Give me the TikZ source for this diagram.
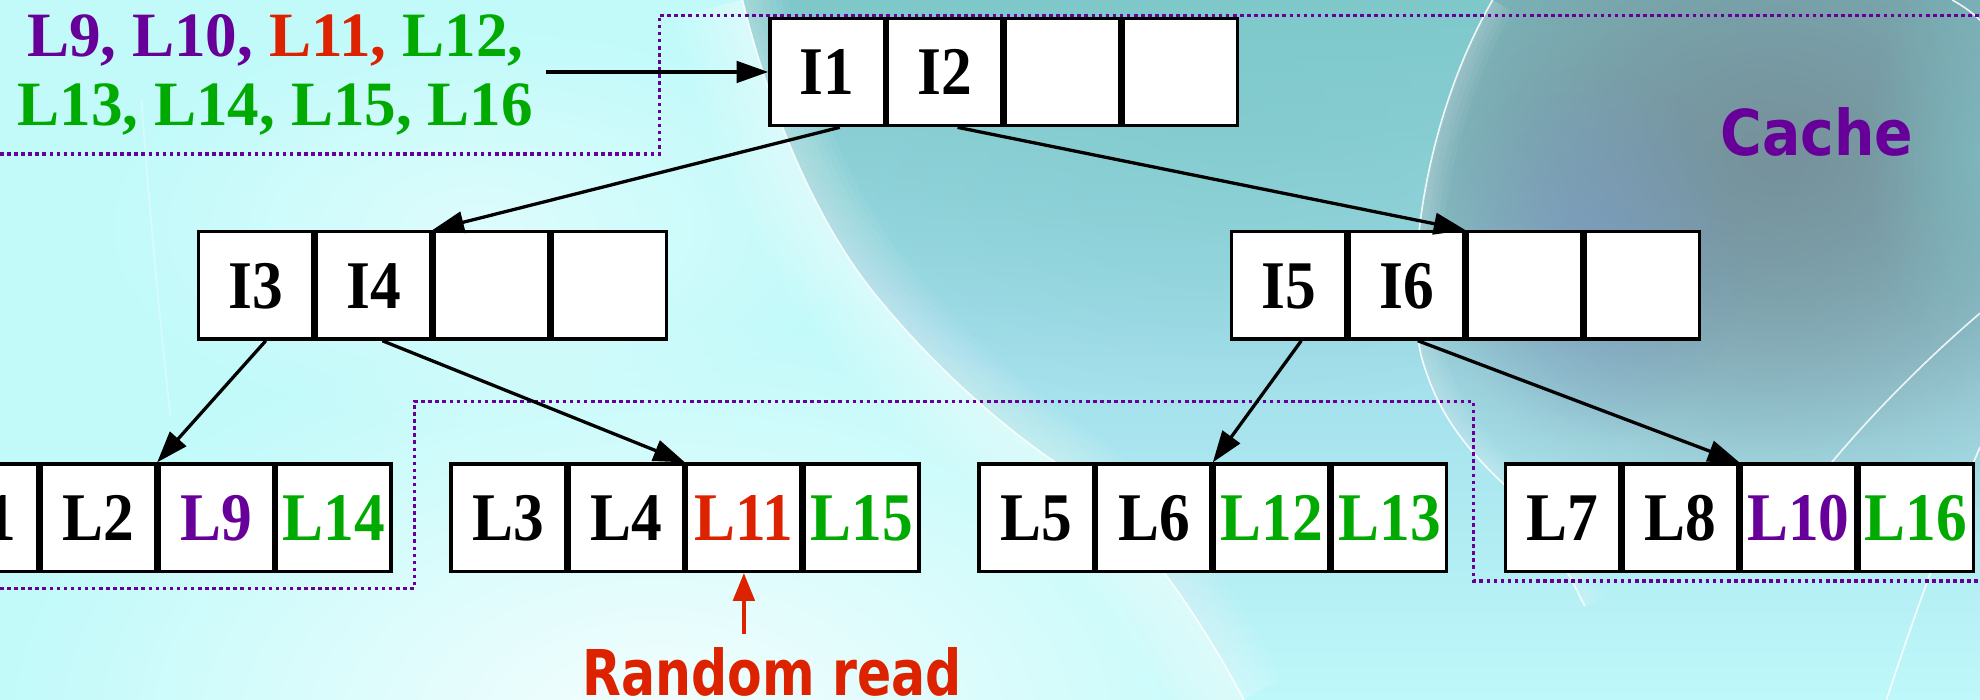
\documentclass[tikz,border=0pt]{standalone}
\usepackage{fontspec}
\usepackage{graphicx}
\setmainfont{Liberation Serif}
\newfontfamily\labelsans{DejaVu Sans}
\usetikzlibrary{arrows.meta,positioning,fadings}

\definecolor{bgcyan}{RGB}{194,250,250}
\definecolor{tealtop}{RGB}{126,200,202}
\definecolor{tealmid}{RGB}{162,222,234}
\definecolor{tealbot}{RGB}{190,248,250}
\definecolor{slateblob}{RGB}{118,146,156}
\definecolor{lilacblob}{RGB}{122,150,200}
\definecolor{cpurple}{RGB}{102,0,153}
\definecolor{cgreen}{RGB}{0,170,0}
\definecolor{cred}{RGB}{221,34,0}

\tikzfading[name=softedge, inner color=transparent!0, outer color=transparent!100]

% slightly condensed text inside the cells
\newcommand{\celltxt}[2][black]{\textcolor{#1}{\scalebox{0.9}[1]{#2}}}

% sweeping arcs of the backdrop
\newcommand{\leftsweep}{(588,0) .. controls (605,70) and (640,170) .. (697,238)
  .. controls (740,290) and (790,335) .. (837,367) .. controls (890,405) and (940,470) .. (985,554)}
\newcommand{\rightsweep}{(1182,0) .. controls (1130,90) and (1112,210) .. (1125,280)
  .. controls (1138,330) and (1165,360) .. (1200,392) .. controls (1225,420) and (1240,450) .. (1255,480)}

\tikzset{
  cell/.style={draw, line width=2.7pt, fill=white, minimum width=90.6pt,
    minimum height=85pt, inner sep=0pt, text height=36pt, text depth=0pt,
    font=\fontsize{54}{54}\selectfont\bfseries},
  link/.style={draw, line width=2.6pt, -{Triangle[length=25pt,width=17pt]}},
  redlink/.style={draw=cred, line width=3pt, -{Triangle[length=22pt,width=17pt]}, cred},
  cacheline/.style={draw=cpurple, line width=2.6pt, dash pattern=on 2.8pt off 2.8pt},
  bigsans/.style={font=\labelsans\fontsize{50}{50}\selectfont\bfseries, inner sep=0pt},
  whitearc/.style={draw=white, line width=1.3pt, opacity=0.85},
  glow/.style={draw=white, line width=#1, opacity=0.05},
}

\begin{document}
\begin{tikzpicture}[x=1pt, y=-1pt]
\useasboundingbox (0,0) rectangle (1568,554);

% backdrop
\begin{scope}
  \clip (0,0) rectangle (1568,554);
  \fill[bgcyan] (0,0) rectangle (1568,554);
  \fill[white, opacity=0.85, path fading=softedge] (520,580) ellipse [x radius=520, y radius=330];
  \fill[white, opacity=0.45, path fading=softedge] (380,180) ellipse [x radius=300, y radius=160];
  % soft bright rim along the left sweep
  \foreach \w in {110,100,...,10} {\draw[glow=\w pt] \leftsweep;}
  % teal body right of the left sweep
  \begin{scope}
    \clip \leftsweep -- (1568,554) -- (1568,0) -- cycle;
    \shade[top color=tealtop, bottom color=tealbot, middle color=tealmid]
      (560,0) rectangle (1568,554);
    \fill[tealtop, opacity=0.6, path fading=softedge] (980,80) ellipse [x radius=420, y radius=240];
    \foreach \w in {70,60,...,10} {\draw[glow=\w pt] \leftsweep;}
    % grey dome right of the right sweep
    \begin{scope}
      \clip \rightsweep -- (1568,554) -- (1568,0) -- cycle;
      \fill[slateblob, path fading=softedge] (1410,120) ellipse [x radius=420, y radius=330];
      \fill[slateblob, opacity=0.6, path fading=softedge] (1380,140) ellipse [x radius=280, y radius=220];
      \fill[lilacblob, opacity=0.55, path fading=softedge] (1262,200) ellipse [x radius=120, y radius=150];
      \fill[tealtop, opacity=0.5, path fading=softedge] (1568,120) ellipse [x radius=90, y radius=180];
      \foreach \w in {36,28,...,4} {\draw[glow=\w pt] \rightsweep;}
    \end{scope}
  \end{scope}
  \draw[whitearc] \leftsweep;
  \draw[whitearc] \rightsweep;
  \draw[whitearc] (1568,248) .. controls (1525,285) and (1485,325) .. (1449,368);
  \draw[whitearc] (1568,354) .. controls (1540,420) and (1515,490) .. (1494,554);
  \draw[whitearc] (1546,0) .. controls (1555,5) and (1562,10) .. (1568,16);
  \draw[whitearc, opacity=0.35] (112,80) .. controls (118,160) and (125,240) .. (135,330);
\end{scope}

% cached region borders
\draw[cacheline] (0,122) -- (522,122) -- (522,12) -- (1568,12);
\draw[cacheline] (0,466) -- (328,466) -- (328,318) -- (1167,318) -- (1167,460) -- (1568,460);

% root node
\node[cell] (r1) at (655,57) {\celltxt{I1}};
\node[cell, right=0pt of r1] (r2) {\celltxt{I2}};
\node[cell, right=0pt of r2] (r3) {};
\node[cell, right=0pt of r3] (r4) {};

% inner nodes
\node[cell] (a1) at (202.5,226) {\celltxt{I3}};
\node[cell, right=0pt of a1] (a2) {\celltxt{I4}};
\node[cell, right=0pt of a2] (a3) {};
\node[cell, right=0pt of a3] (a4) {};

\node[cell] (b1) at (1020.5,226) {\celltxt{I5}};
\node[cell, right=0pt of b1] (b2) {\celltxt{I6}};
\node[cell, right=0pt of b2] (b3) {};
\node[cell, right=0pt of b3] (b4) {};

% leaves
\node[cell] (p1) at (-15.5,410) {\celltxt{L1}};
\node[cell, right=0pt of p1] (p2) {\celltxt{L2}};
\node[cell, right=0pt of p2] (p3) {\celltxt[cpurple]{L9}};
\node[cell, right=0pt of p3] (p4) {\celltxt[cgreen]{L14}};

\node[cell] (q1) at (402.5,410) {\celltxt{L3}};
\node[cell, right=0pt of q1] (q2) {\celltxt{L4}};
\node[cell, right=0pt of q2] (q3) {\celltxt[cred]{L11}};
\node[cell, right=0pt of q3] (q4) {\celltxt[cgreen]{L15}};

\node[cell] (s1) at (820.5,410) {\celltxt{L5}};
\node[cell, right=0pt of s1] (s2) {\celltxt{L6}};
\node[cell, right=0pt of s2] (s3) {\celltxt[cgreen]{L12}};
\node[cell, right=0pt of s3] (s4) {\celltxt[cgreen]{L13}};

\node[cell] (t1) at (1237.5,410) {\celltxt{L7}};
\node[cell, right=0pt of t1] (t2) {\celltxt{L8}};
\node[cell, right=0pt of t2] (t3) {\celltxt[cpurple]{L10}};
\node[cell, right=0pt of t3] (t4) {\celltxt[cgreen]{L16}};

% tree pointers
\draw[link] ([xshift=10pt]r1.south) -- (a2.north east);
\draw[link] ([xshift=10pt]r2.south) -- (b2.north east);
\draw[link] ([xshift=8pt]a1.south) -- (p2.north east);
\draw[link] ([xshift=7pt]a2.south) -- (q2.north east);
\draw[link] ([xshift=10pt]b1.south) -- (s2.north east);
\draw[link] ([xshift=9pt]b2.south) -- (t2.north east);

% incoming leaf list
\node[anchor=north, align=center, inner sep=0pt,
      font=\fontsize{50}{55}\selectfont\bfseries] (src) at (218,11)
  {\textcolor{cpurple}{L9, L10,} \textcolor{cred}{L11,} \textcolor{cgreen}{L12,}\\
   \textcolor{cgreen}{L13, L14, L15, L16}};
\draw[link] ([xshift=10pt]src.east |- r1.west) -- (r1.west);

% labels
\node[bigsans, text=cpurple, anchor=base] (cache) at (1439,123) {\scalebox{0.9}[1]{Cache}};
\node[bigsans, text=cred, anchor=base] (rr) at (611.5,551) {\scalebox{0.8}[1]{Random read}};
\draw[redlink] ([yshift=-48pt]q3.south) -- (q3.south);
\end{tikzpicture}
\end{document}
